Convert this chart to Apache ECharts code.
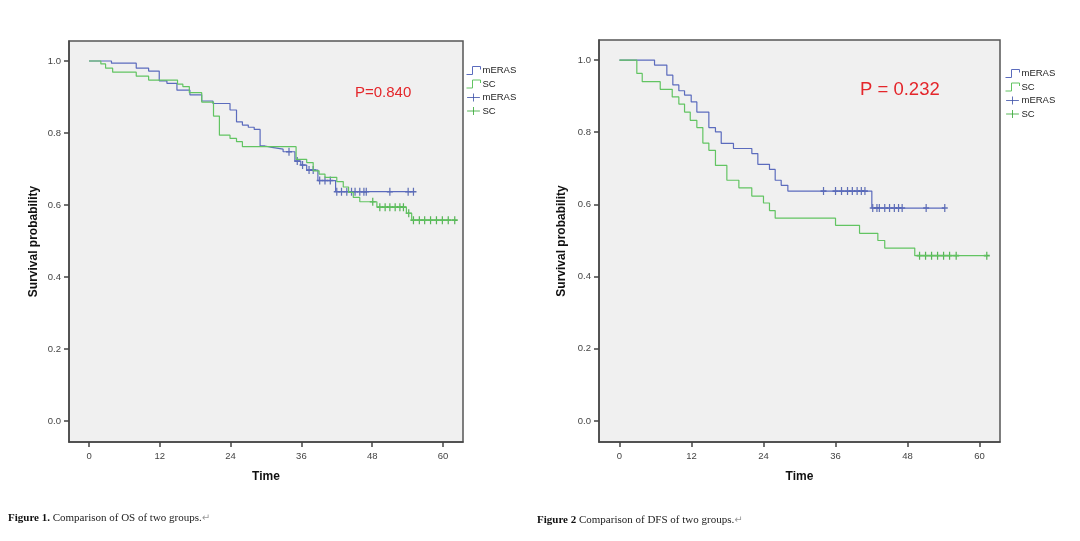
<!DOCTYPE html>
<html>
<head>
<meta charset="utf-8">
<style>
  html, body { margin: 0; padding: 0; background: #fff; }
  #main { width: 1080px; height: 541px; }
</style>
<script src="https://cdn.jsdelivr.net/npm/echarts@6/dist/echarts.min.js"></script>
</head>
<body>
<div id="main"></div>
<script>
// tick labels
var timeTicks = [0, 12, 24, 36, 48, 60];
var probTicks = [0, 0.2, 0.4, 0.6, 0.8, 1.0];

// OS (figure 1): [month, survival after event]
var osMerasSteps = [[0, 1], [3.8, 0.994], [8.0, 0.980], [10.1, 0.972], [11.9, 0.945], [13.2, 0.938],
    [14.9, 0.919], [17.1, 0.906], [19.1, 0.889], [21.0, 0.882], [23.9, 0.864], [25.0, 0.831],
    [26.0, 0.822], [27.0, 0.816], [28.0, 0.810], [29.0, 0.764], [29.8, 0.760], [31.0, 0.755],
    [32.9, 0.748], [34.9, 0.722], [35.9, 0.711], [36.9, 0.697], [38.8, 0.668], [41.8, 0.637],
    [55.0, 0.637]];
var osScSteps = [[0, 1], [2.0, 0.992], [2.8, 0.980], [4.0, 0.969], [8.0, 0.958], [10.1, 0.947],
    [15.0, 0.936], [15.9, 0.929], [17.0, 0.912], [19.1, 0.886], [21.1, 0.847], [22.1, 0.794],
    [23.9, 0.785], [25.0, 0.776], [26.0, 0.762], [35.1, 0.727], [36.9, 0.718], [38.0, 0.695],
    [39.0, 0.686], [40.0, 0.677], [42.0, 0.665], [43.1, 0.650], [44.0, 0.635], [44.8, 0.621],
    [45.9, 0.609], [48.8, 0.594], [53.8, 0.577], [54.7, 0.558], [62.0, 0.558]];
var osMerasCensor = [[33.9, 0.748], [35.3, 0.722], [36.2, 0.711], [37.3, 0.697], [38.0, 0.697],
    [39.1, 0.668], [40.0, 0.668], [40.9, 0.668], [42.0, 0.637], [42.8, 0.637], [43.7, 0.637],
    [44.5, 0.637], [45.1, 0.637], [45.9, 0.637], [46.6, 0.637], [47.0, 0.637], [51.0, 0.637],
    [54.1, 0.637], [55.0, 0.637]];
var osScCensor = [[48.1, 0.609], [49.3, 0.594], [50.2, 0.594], [51.0, 0.594], [51.9, 0.594],
    [52.7, 0.594], [53.3, 0.594], [54.2, 0.577], [55.0, 0.558], [56.0, 0.558], [56.9, 0.558],
    [57.9, 0.558], [58.9, 0.558], [59.9, 0.558], [60.9, 0.558], [62.0, 0.558]];

// DFS (figure 2)
var dfsMerasSteps = [[0, 1], [5.85, 0.986], [7.9, 0.958], [8.9, 0.931], [9.9, 0.915], [10.85, 0.903],
    [11.96, 0.884], [12.9, 0.856], [14.9, 0.813], [16.0, 0.801], [16.96, 0.769], [19.0, 0.755],
    [22.06, 0.741], [23.06, 0.711], [25.0, 0.697], [25.95, 0.667], [26.95, 0.653], [28.06, 0.637],
    [42.05, 0.590], [54.2, 0.590]];
var dfsScSteps = [[0, 1], [2.9, 0.963], [3.8, 0.940], [6.8, 0.919], [8.8, 0.898], [9.9, 0.878],
    [10.85, 0.856], [11.8, 0.833], [12.9, 0.813], [13.9, 0.770], [14.9, 0.750], [16.0, 0.708],
    [17.9, 0.667], [19.9, 0.646], [22.05, 0.623], [24.0, 0.604], [25.0, 0.583], [25.95, 0.562],
    [36.0, 0.542], [40.0, 0.520], [43.05, 0.500], [44.2, 0.479], [49.2, 0.458], [61.2, 0.458]];
var dfsMerasCensor = [[34.0, 0.637], [36.0, 0.637], [37.0, 0.637], [38.0, 0.637], [38.8, 0.637],
    [39.6, 0.637], [40.3, 0.637], [40.9, 0.637], [42.2, 0.590], [42.9, 0.590], [43.3, 0.590],
    [44.2, 0.590], [45.0, 0.590], [45.8, 0.590], [46.5, 0.590], [47.1, 0.590], [51.1, 0.590],
    [54.2, 0.590]];
var dfsScCensor = [[50.0, 0.458], [51.0, 0.458], [52.0, 0.458], [53.0, 0.458], [54.0, 0.458],
    [55.0, 0.458], [56.1, 0.458], [61.2, 0.458]];

var groupNames = ['mERAS', 'SC'];
var pValues = ['P=0.840', 'P = 0.232'];

var blueLine = '#5b6bbd', greenLine = '#62c462';
var blueMark = '#3b4fa6', greenMark = '#2fa52f';
var stepIcon = 'path://M0,9 L6,9 L6,1 L14,1 L14,4';
var crossIcon = 'path://M0,5 L10,5 M5,0 L5,10';
var legendCross = 'path://M0,5 L16,5 M8,0 L8,10';
var fontSans = '"Liberation Sans", Arial, sans-serif';
var fontSerif = '"Liberation Serif", "Times New Roman", serif';

var chart = echarts.init(document.getElementById('main'));

function xAxisOf(idx) {
    return {
        type: 'value', gridIndex: idx, min: -3.4, max: 63.4,
        name: 'Time', nameLocation: 'middle', nameGap: 29,
        nameTextStyle: {fontFamily: fontSans, fontSize: 12, fontWeight: 'bold', color: '#111'},
        axisLine: {show: true, onZero: false, lineStyle: {color: '#444', width: 1.5}},
        axisTick: {show: true, length: 5, customValues: timeTicks, lineStyle: {color: '#444', width: 1.5}},
        axisLabel: {customValues: timeTicks, margin: 9, fontFamily: fontSans, fontSize: 9.5, color: '#444'},
        splitLine: {show: false}
    };
}

function yAxisOf(idx, gap) {
    return {
        type: 'value', gridIndex: idx, min: -0.0583, max: 1.0556,
        name: 'Survival probability', nameLocation: 'middle', nameGap: gap,
        nameTextStyle: {fontFamily: fontSans, fontSize: 12, fontWeight: 'bold', color: '#111'},
        axisLine: {show: true, onZero: false, lineStyle: {color: '#444', width: 1.5}},
        axisTick: {show: true, length: 5, customValues: probTicks, lineStyle: {color: '#444', width: 1.5}},
        axisLabel: {customValues: probTicks, margin: 8, fontFamily: fontSans, fontSize: 9.5, color: '#444',
            formatter: function (v) { return v.toFixed(1); }},
        splitLine: {show: false}
    };
}

function lineSeries(name, idx, data, color) {
    return {
        name: name, type: 'line', step: 'end', xAxisIndex: idx, yAxisIndex: idx,
        data: data, showSymbol: false, silent: true,
        lineStyle: {color: color, width: 1.2}, itemStyle: {color: color}
    };
}

function censorSeries(name, idx, data, color) {
    return {
        name: name, type: 'scatter', xAxisIndex: idx, yAxisIndex: idx,
        data: data, symbol: crossIcon, symbolSize: [6, 8], silent: true,
        itemStyle: {color: 'none', borderColor: color, borderWidth: 1.4}
    };
}

function legendOf(idx, left, top) {
    return {
        show: true, orient: 'vertical', left: left, top: top, selectedMode: false,
        itemWidth: 16, itemHeight: 8, itemGap: 0.5, padding: 0,
        textStyle: {fontFamily: fontSans, fontSize: 9.5, lineHeight: 10, color: '#222', padding: [0, 0, 0, -4]},
        formatter: function (n) { return n.replace(/[#+]\d$/, ''); },
        data: [
            {name: groupNames[0] + '#' + idx, icon: stepIcon,
                itemStyle: {color: 'none', borderColor: blueLine, borderWidth: 1}},
            {name: groupNames[1] + '#' + idx, icon: stepIcon,
                itemStyle: {color: 'none', borderColor: greenLine, borderWidth: 1}},
            {name: groupNames[0] + '+' + idx, icon: legendCross,
                itemStyle: {color: 'none', borderColor: blueMark, borderWidth: 1}},
            {name: groupNames[1] + '+' + idx, icon: legendCross,
                itemStyle: {color: 'none', borderColor: greenMark, borderWidth: 1}}
        ]
    };
}

function caption(text, left, top) {
    return {
        type: 'text', left: left, top: top,
        style: {
            text: text, fill: '#222', font: '11px ' + fontSerif,
            rich: {
                b: {fontWeight: 'bold', fontSize: 11, fontFamily: fontSerif, fill: '#111'},
                r: {fontSize: 10, fill: '#999', fontFamily: '"DejaVu Sans", sans-serif'}
            }
        }
    };
}

chart.setOption({
    animation: false,
    grid: [
        {left: 69, top: 41, width: 394, height: 401, show: true,
            backgroundColor: '#f0f0f0', borderColor: '#555', borderWidth: 1.5},
        {left: 599, top: 40, width: 401, height: 402, show: true,
            backgroundColor: '#f0f0f0', borderColor: '#555', borderWidth: 1.5}
    ],
    xAxis: [xAxisOf(0), xAxisOf(1)],
    yAxis: [yAxisOf(0, 29), yAxisOf(1, 31)],
    legend: [legendOf(0, 464, 64), legendOf(1, 1003, 67)],
    series: [
        lineSeries(groupNames[0] + '#0', 0, osMerasSteps, blueLine),
        lineSeries(groupNames[1] + '#0', 0, osScSteps, greenLine),
        censorSeries(groupNames[0] + '+0', 0, osMerasCensor, blueMark),
        censorSeries(groupNames[1] + '+0', 0, osScCensor, greenMark),
        lineSeries(groupNames[0] + '#1', 1, dfsMerasSteps, blueLine),
        lineSeries(groupNames[1] + '#1', 1, dfsScSteps, greenLine),
        censorSeries(groupNames[0] + '+1', 1, dfsMerasCensor, blueMark),
        censorSeries(groupNames[1] + '+1', 1, dfsScCensor, greenMark)
    ],
    graphic: [
        {type: 'text', left: 355, top: 85,
            style: {text: pValues[0], fill: '#e4262b', font: '15px ' + fontSans}},
        {type: 'text', left: 860, top: 80,
            style: {text: pValues[1], fill: '#e4262b', font: '18.5px ' + fontSans}},
        caption('{b|Figure 1.} Comparison of OS of two groups.{r|↵}', 8, 513),
        caption('{b|Figure 2} Comparison of DFS of two groups.{r|↵}', 537, 515)
    ]
});
</script>
</body>
</html>
